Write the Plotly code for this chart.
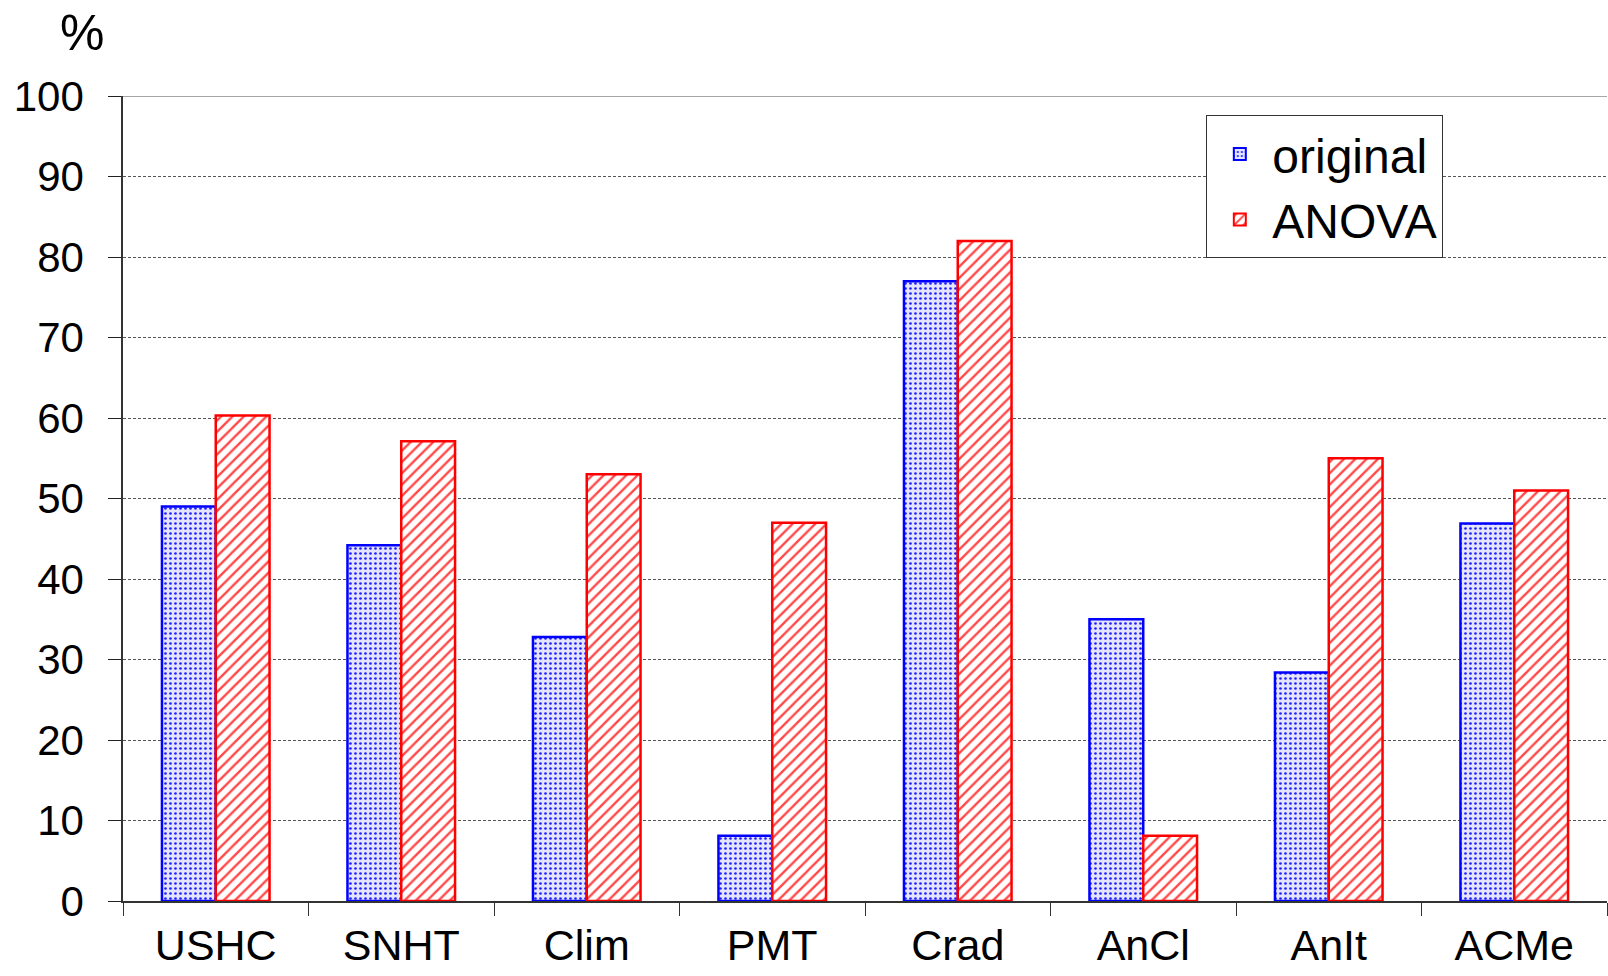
import plotly.graph_objects as go

categories = ["USHC", "SNHT", "Clim", "PMT", "Crad", "AnCl", "AnIt", "ACMe"]
original = [49.0, 44.2, 32.8, 8.1, 77.0, 35.0, 28.4, 46.9]
anova = [60.3, 57.1, 53.0, 47.0, 82.0, 8.1, 55.0, 51.0]
y_ticks = [0, 10, 20, 30, 40, 50, 60, 70, 80, 90, 100]

FONT = "Liberation Sans, Arial, sans-serif"

fig = go.Figure()
fig.add_trace(go.Bar(
    name="original", x=categories, y=original,
    marker=dict(
        color="white",
        line=dict(color="#0000FF", width=2.5),
        pattern=dict(shape=".", fgcolor="#2020FF", bgcolor="#E4E4FF",
                     size=5, solidity=0.22, fillmode="replace"),
    ),
))
fig.add_trace(go.Bar(
    name="ANOVA", x=categories, y=anova,
    marker=dict(
        color="white",
        line=dict(color="#FF0000", width=2.5),
        pattern=dict(shape="/", fgcolor="#FF4848", bgcolor="white",
                     size=8, solidity=0.3, fillmode="replace"),
    ),
))

fig.update_layout(
    width=1608, height=976,
    margin=dict(l=123, r=1, t=96, b=75),
    paper_bgcolor="white", plot_bgcolor="white",
    barmode="group", bargap=0.42, bargroupgap=0,
    font=dict(family=FONT, color="black", size=42),
    showlegend=True,
    legend=dict(
        x=0.730, y=0.976, xanchor="left", yanchor="top",
        bgcolor="white", bordercolor="#333333", borderwidth=1,
        font=dict(size=48, family=FONT),
        itemsizing="constant", itemwidth=55, tracegroupgap=0,
    ),
    xaxis=dict(
        type="category", tickson="boundaries", automargin=False,
        ticks="outside", ticklen=13, tickcolor="#333333", tickwidth=1,
        showline=True, linecolor="#333333", linewidth=1.5,
        showgrid=False, tickfont=dict(size=43), ticklabelstandoff=6,
    ),
    yaxis=dict(
        range=[0, 100], tickvals=y_ticks, automargin=False,
        ticks="outside", ticklen=13, tickcolor="#222222", tickwidth=1,
        showline=True, linecolor="#333333", linewidth=1.5,
        showgrid=True, gridcolor="#555555", gridwidth=1, griddash="3px,2px",
        tickfont=dict(size=42), ticklabelstandoff=16,
        zeroline=False,
    ),
)

# solid frame line along the top of the plot area
fig.add_shape(type="line", xref="paper", yref="y", x0=0, x1=1, y0=100, y1=100,
              line=dict(color="#888888", width=1.5))

fig.add_annotation(text="%", xref="paper", yref="paper", x=(82 - 123) / 1484,
                   y=(901 - 33) / 805, xanchor="center", yanchor="middle",
                   showarrow=False, font=dict(size=50, family=FONT))

fig.write_html("out.html")
